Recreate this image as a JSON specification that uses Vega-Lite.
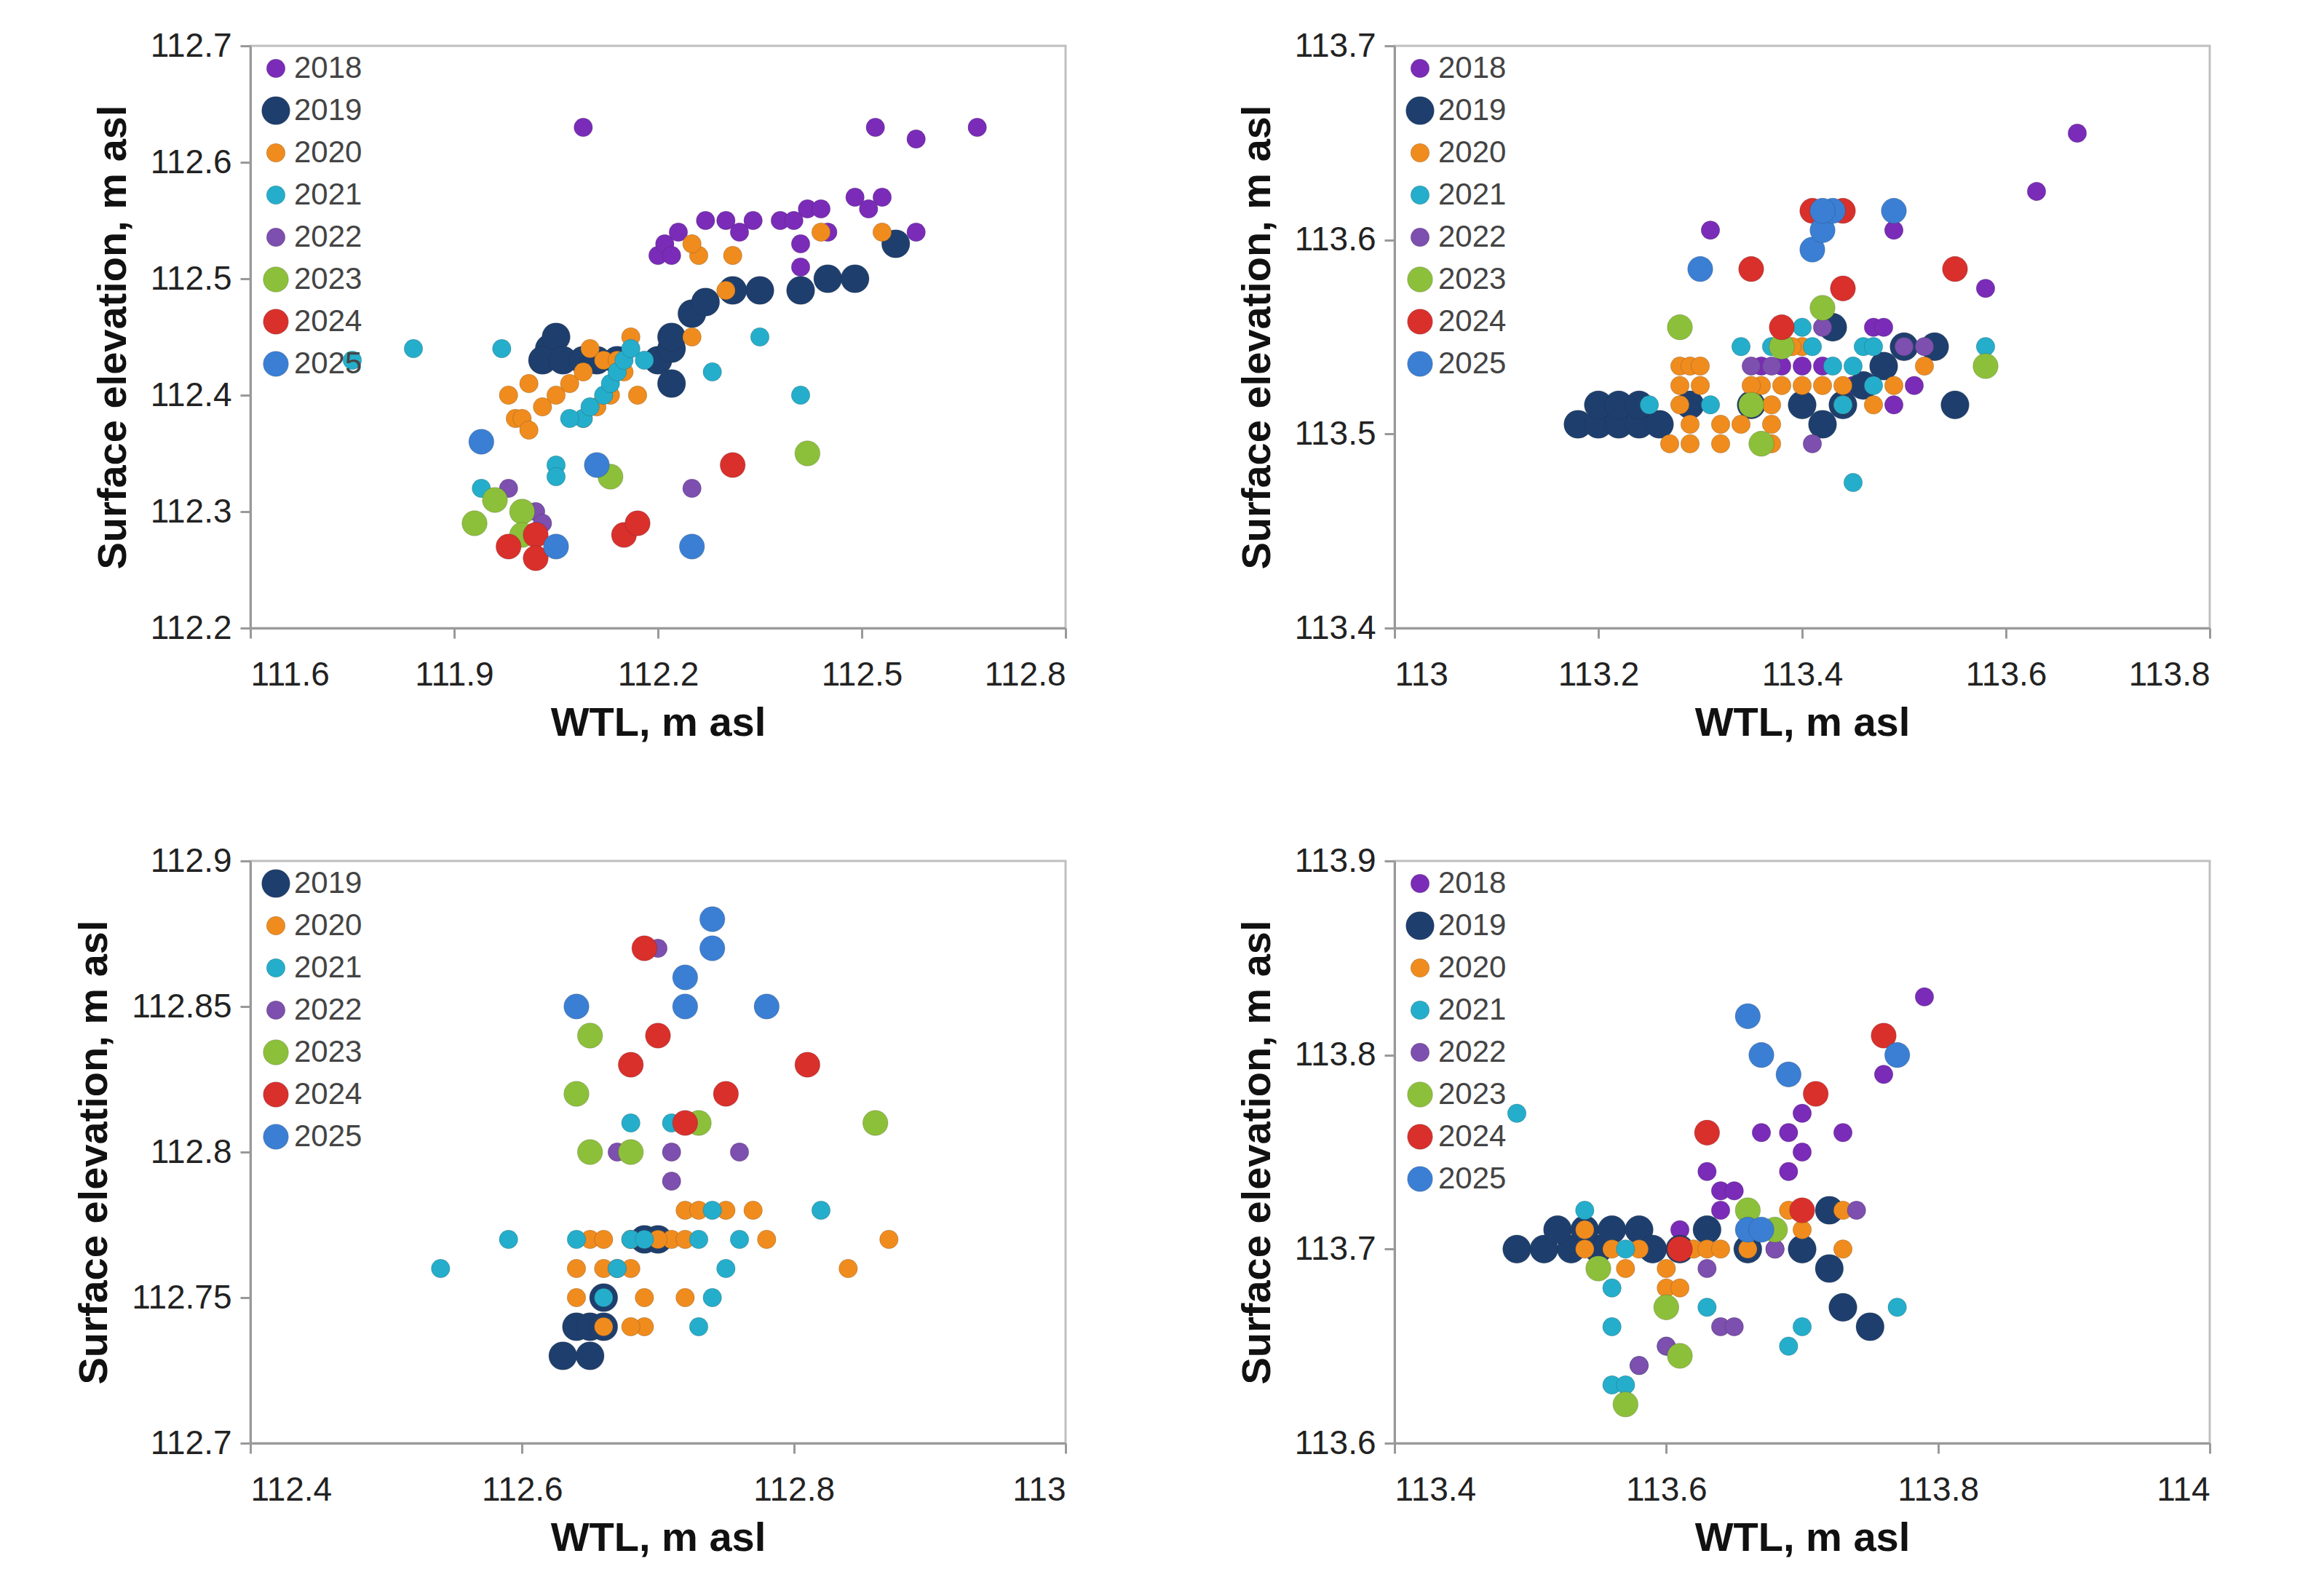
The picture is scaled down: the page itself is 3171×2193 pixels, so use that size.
{
"$schema":"https://vega.github.io/schema/vega-lite/v6.json",
"background":"white",
"padding":{"left":100,"top":38,"right":40,"bottom":20},
"columns":2,
"spacing":{"column":230,"row":135},
"datasets":{
"p2":[
{"year":"2018","wtl":112.09,"se":112.63},{"year":"2018","wtl":112.52,"se":112.63},{"year":"2018","wtl":112.58,"se":112.62},{"year":"2018","wtl":112.67,"se":112.63},{"year":"2018","wtl":112.20,"se":112.52},{"year":"2018","wtl":112.21,"se":112.53},{"year":"2018","wtl":112.22,"se":112.52},{"year":"2018","wtl":112.23,"se":112.54},{"year":"2018","wtl":112.27,"se":112.55},{"year":"2018","wtl":112.30,"se":112.55},{"year":"2018","wtl":112.32,"se":112.54},{"year":"2018","wtl":112.34,"se":112.55},{"year":"2018","wtl":112.38,"se":112.55},{"year":"2018","wtl":112.40,"se":112.55},{"year":"2018","wtl":112.42,"se":112.56},{"year":"2018","wtl":112.44,"se":112.56},{"year":"2018","wtl":112.49,"se":112.57},{"year":"2018","wtl":112.53,"se":112.57},{"year":"2018","wtl":112.51,"se":112.56},{"year":"2018","wtl":112.41,"se":112.53},{"year":"2018","wtl":112.41,"se":112.51},{"year":"2018","wtl":112.45,"se":112.54},{"year":"2018","wtl":112.58,"se":112.54},
{"year":"2019","wtl":112.04,"se":112.44},{"year":"2019","wtl":112.05,"se":112.45},{"year":"2019","wtl":112.03,"se":112.43},{"year":"2019","wtl":112.06,"se":112.43},{"year":"2019","wtl":112.09,"se":112.43},{"year":"2019","wtl":112.11,"se":112.43},{"year":"2019","wtl":112.14,"se":112.43},{"year":"2019","wtl":112.20,"se":112.43},{"year":"2019","wtl":112.22,"se":112.44},{"year":"2019","wtl":112.22,"se":112.41},{"year":"2019","wtl":112.25,"se":112.47},{"year":"2019","wtl":112.27,"se":112.48},{"year":"2019","wtl":112.31,"se":112.49},{"year":"2019","wtl":112.35,"se":112.49},{"year":"2019","wtl":112.41,"se":112.49},{"year":"2019","wtl":112.45,"se":112.50},{"year":"2019","wtl":112.49,"se":112.50},{"year":"2019","wtl":112.55,"se":112.53},{"year":"2019","wtl":112.22,"se":112.45},
{"year":"2020","wtl":111.98,"se":112.40},{"year":"2020","wtl":111.99,"se":112.38},{"year":"2020","wtl":112.01,"se":112.41},{"year":"2020","wtl":112.03,"se":112.39},{"year":"2020","wtl":112.05,"se":112.40},{"year":"2020","wtl":112.07,"se":112.41},{"year":"2020","wtl":112.09,"se":112.42},{"year":"2020","wtl":112.10,"se":112.44},{"year":"2020","wtl":112.12,"se":112.43},{"year":"2020","wtl":112.14,"se":112.43},{"year":"2020","wtl":112.15,"se":112.42},{"year":"2020","wtl":112.16,"se":112.45},{"year":"2020","wtl":112.11,"se":112.39},{"year":"2020","wtl":112.13,"se":112.40},{"year":"2020","wtl":112.09,"se":112.38},{"year":"2020","wtl":112.00,"se":112.38},{"year":"2020","wtl":112.01,"se":112.37},{"year":"2020","wtl":112.25,"se":112.45},{"year":"2020","wtl":112.26,"se":112.52},{"year":"2020","wtl":112.25,"se":112.53},{"year":"2020","wtl":112.31,"se":112.52},{"year":"2020","wtl":112.30,"se":112.49},{"year":"2020","wtl":112.44,"se":112.54},{"year":"2020","wtl":112.53,"se":112.54},{"year":"2020","wtl":112.17,"se":112.40},
{"year":"2021","wtl":111.75,"se":112.43},{"year":"2021","wtl":111.84,"se":112.44},{"year":"2021","wtl":111.97,"se":112.44},{"year":"2021","wtl":112.09,"se":112.38},{"year":"2021","wtl":112.07,"se":112.38},{"year":"2021","wtl":112.10,"se":112.39},{"year":"2021","wtl":112.12,"se":112.40},{"year":"2021","wtl":112.13,"se":112.41},{"year":"2021","wtl":112.14,"se":112.42},{"year":"2021","wtl":112.15,"se":112.43},{"year":"2021","wtl":112.16,"se":112.44},{"year":"2021","wtl":112.18,"se":112.43},{"year":"2021","wtl":112.28,"se":112.42},{"year":"2021","wtl":112.35,"se":112.45},{"year":"2021","wtl":112.41,"se":112.40},{"year":"2021","wtl":112.05,"se":112.34},{"year":"2021","wtl":112.05,"se":112.33},{"year":"2021","wtl":111.94,"se":112.32},
{"year":"2022","wtl":111.98,"se":112.32},{"year":"2022","wtl":112.02,"se":112.30},{"year":"2022","wtl":112.03,"se":112.29},{"year":"2022","wtl":112.25,"se":112.32},
{"year":"2023","wtl":111.93,"se":112.29},{"year":"2023","wtl":111.96,"se":112.31},{"year":"2023","wtl":112.00,"se":112.30},{"year":"2023","wtl":112.00,"se":112.28},{"year":"2023","wtl":112.13,"se":112.33},{"year":"2023","wtl":112.42,"se":112.35},
{"year":"2024","wtl":111.98,"se":112.27},{"year":"2024","wtl":112.02,"se":112.28},{"year":"2024","wtl":112.02,"se":112.26},{"year":"2024","wtl":112.15,"se":112.28},{"year":"2024","wtl":112.17,"se":112.29},{"year":"2024","wtl":112.31,"se":112.34},
{"year":"2025","wtl":111.94,"se":112.36},{"year":"2025","wtl":112.11,"se":112.34},{"year":"2025","wtl":112.05,"se":112.27},{"year":"2025","wtl":112.25,"se":112.27}],
"p3":[
{"year":"2018","wtl":113.67,"se":113.655},{"year":"2018","wtl":113.63,"se":113.625},{"year":"2018","wtl":113.31,"se":113.605},{"year":"2018","wtl":113.49,"se":113.605},{"year":"2018","wtl":113.58,"se":113.575},{"year":"2018","wtl":113.47,"se":113.555},{"year":"2018","wtl":113.48,"se":113.555},{"year":"2018","wtl":113.45,"se":113.525},{"year":"2018","wtl":113.51,"se":113.525},{"year":"2018","wtl":113.44,"se":113.515},{"year":"2018","wtl":113.49,"se":113.515},{"year":"2018","wtl":113.36,"se":113.535},{"year":"2018","wtl":113.38,"se":113.535},{"year":"2018","wtl":113.40,"se":113.535},{"year":"2018","wtl":113.42,"se":113.535},
{"year":"2019","wtl":113.18,"se":113.505},{"year":"2019","wtl":113.20,"se":113.505},{"year":"2019","wtl":113.22,"se":113.505},{"year":"2019","wtl":113.24,"se":113.505},{"year":"2019","wtl":113.20,"se":113.515},{"year":"2019","wtl":113.22,"se":113.515},{"year":"2019","wtl":113.24,"se":113.515},{"year":"2019","wtl":113.26,"se":113.505},{"year":"2019","wtl":113.29,"se":113.515},{"year":"2019","wtl":113.35,"se":113.515},{"year":"2019","wtl":113.40,"se":113.515},{"year":"2019","wtl":113.42,"se":113.505},{"year":"2019","wtl":113.46,"se":113.525},{"year":"2019","wtl":113.48,"se":113.535},{"year":"2019","wtl":113.53,"se":113.545},{"year":"2019","wtl":113.50,"se":113.545},{"year":"2019","wtl":113.55,"se":113.515},{"year":"2019","wtl":113.44,"se":113.515},{"year":"2019","wtl":113.43,"se":113.555},
{"year":"2020","wtl":113.28,"se":113.535},{"year":"2020","wtl":113.29,"se":113.535},{"year":"2020","wtl":113.30,"se":113.535},{"year":"2020","wtl":113.28,"se":113.525},{"year":"2020","wtl":113.30,"se":113.525},{"year":"2020","wtl":113.28,"se":113.515},{"year":"2020","wtl":113.29,"se":113.505},{"year":"2020","wtl":113.27,"se":113.495},{"year":"2020","wtl":113.29,"se":113.495},{"year":"2020","wtl":113.32,"se":113.505},{"year":"2020","wtl":113.34,"se":113.505},{"year":"2020","wtl":113.32,"se":113.495},{"year":"2020","wtl":113.37,"se":113.495},{"year":"2020","wtl":113.37,"se":113.505},{"year":"2020","wtl":113.37,"se":113.515},{"year":"2020","wtl":113.36,"se":113.525},{"year":"2020","wtl":113.38,"se":113.525},{"year":"2020","wtl":113.40,"se":113.525},{"year":"2020","wtl":113.42,"se":113.525},{"year":"2020","wtl":113.44,"se":113.525},{"year":"2020","wtl":113.44,"se":113.515},{"year":"2020","wtl":113.47,"se":113.515},{"year":"2020","wtl":113.49,"se":113.525},{"year":"2020","wtl":113.52,"se":113.535},{"year":"2020","wtl":113.40,"se":113.545},{"year":"2020","wtl":113.35,"se":113.525},{"year":"2020","wtl":113.39,"se":113.545},
{"year":"2021","wtl":113.25,"se":113.515},{"year":"2021","wtl":113.34,"se":113.545},{"year":"2021","wtl":113.38,"se":113.555},{"year":"2021","wtl":113.40,"se":113.555},{"year":"2021","wtl":113.41,"se":113.545},{"year":"2021","wtl":113.43,"se":113.535},{"year":"2021","wtl":113.45,"se":113.535},{"year":"2021","wtl":113.46,"se":113.545},{"year":"2021","wtl":113.47,"se":113.545},{"year":"2021","wtl":113.47,"se":113.525},{"year":"2021","wtl":113.44,"se":113.515},{"year":"2021","wtl":113.58,"se":113.545},{"year":"2021","wtl":113.31,"se":113.515},{"year":"2021","wtl":113.45,"se":113.475},{"year":"2021","wtl":113.37,"se":113.545},
{"year":"2022","wtl":113.35,"se":113.535},{"year":"2022","wtl":113.42,"se":113.555},{"year":"2022","wtl":113.41,"se":113.495},{"year":"2022","wtl":113.50,"se":113.545},{"year":"2022","wtl":113.52,"se":113.545},{"year":"2022","wtl":113.37,"se":113.535},
{"year":"2023","wtl":113.28,"se":113.555},{"year":"2023","wtl":113.42,"se":113.565},{"year":"2023","wtl":113.38,"se":113.545},{"year":"2023","wtl":113.36,"se":113.495},{"year":"2023","wtl":113.35,"se":113.515},{"year":"2023","wtl":113.58,"se":113.535},
{"year":"2024","wtl":113.35,"se":113.585},{"year":"2024","wtl":113.44,"se":113.575},{"year":"2024","wtl":113.55,"se":113.585},{"year":"2024","wtl":113.38,"se":113.555},{"year":"2024","wtl":113.41,"se":113.615},{"year":"2024","wtl":113.44,"se":113.615},
{"year":"2025","wtl":113.30,"se":113.585},{"year":"2025","wtl":113.41,"se":113.595},{"year":"2025","wtl":113.42,"se":113.605},{"year":"2025","wtl":113.43,"se":113.615},{"year":"2025","wtl":113.49,"se":113.615},{"year":"2025","wtl":113.42,"se":113.615}],
"p4":[
{"year":"2019","wtl":112.63,"se":112.73},{"year":"2019","wtl":112.65,"se":112.73},{"year":"2019","wtl":112.64,"se":112.74},{"year":"2019","wtl":112.65,"se":112.74},{"year":"2019","wtl":112.66,"se":112.74},{"year":"2019","wtl":112.66,"se":112.75},{"year":"2019","wtl":112.69,"se":112.77},{"year":"2019","wtl":112.70,"se":112.77},
{"year":"2020","wtl":112.64,"se":112.75},{"year":"2020","wtl":112.64,"se":112.76},{"year":"2020","wtl":112.66,"se":112.76},{"year":"2020","wtl":112.67,"se":112.76},{"year":"2020","wtl":112.68,"se":112.76},{"year":"2020","wtl":112.65,"se":112.77},{"year":"2020","wtl":112.66,"se":112.77},{"year":"2020","wtl":112.68,"se":112.77},{"year":"2020","wtl":112.71,"se":112.77},{"year":"2020","wtl":112.72,"se":112.77},{"year":"2020","wtl":112.72,"se":112.78},{"year":"2020","wtl":112.75,"se":112.78},{"year":"2020","wtl":112.77,"se":112.78},{"year":"2020","wtl":112.78,"se":112.77},{"year":"2020","wtl":112.84,"se":112.76},{"year":"2020","wtl":112.87,"se":112.77},{"year":"2020","wtl":112.66,"se":112.74},{"year":"2020","wtl":112.69,"se":112.74},{"year":"2020","wtl":112.68,"se":112.74},{"year":"2020","wtl":112.69,"se":112.75},{"year":"2020","wtl":112.72,"se":112.75},{"year":"2020","wtl":112.70,"se":112.77},{"year":"2020","wtl":112.73,"se":112.78},
{"year":"2021","wtl":112.54,"se":112.76},{"year":"2021","wtl":112.59,"se":112.77},{"year":"2021","wtl":112.64,"se":112.77},{"year":"2021","wtl":112.67,"se":112.76},{"year":"2021","wtl":112.68,"se":112.77},{"year":"2021","wtl":112.66,"se":112.75},{"year":"2021","wtl":112.69,"se":112.77},{"year":"2021","wtl":112.73,"se":112.77},{"year":"2021","wtl":112.75,"se":112.76},{"year":"2021","wtl":112.74,"se":112.75},{"year":"2021","wtl":112.73,"se":112.74},{"year":"2021","wtl":112.76,"se":112.77},{"year":"2021","wtl":112.82,"se":112.78},{"year":"2021","wtl":112.74,"se":112.78},{"year":"2021","wtl":112.68,"se":112.81},{"year":"2021","wtl":112.71,"se":112.81},
{"year":"2022","wtl":112.70,"se":112.87},{"year":"2022","wtl":112.67,"se":112.80},{"year":"2022","wtl":112.71,"se":112.80},{"year":"2022","wtl":112.76,"se":112.80},{"year":"2022","wtl":112.71,"se":112.79},
{"year":"2023","wtl":112.65,"se":112.84},{"year":"2023","wtl":112.64,"se":112.82},{"year":"2023","wtl":112.65,"se":112.80},{"year":"2023","wtl":112.68,"se":112.80},{"year":"2023","wtl":112.73,"se":112.81},{"year":"2023","wtl":112.86,"se":112.81},
{"year":"2024","wtl":112.69,"se":112.87},{"year":"2024","wtl":112.70,"se":112.84},{"year":"2024","wtl":112.68,"se":112.83},{"year":"2024","wtl":112.75,"se":112.82},{"year":"2024","wtl":112.81,"se":112.83},{"year":"2024","wtl":112.72,"se":112.81},
{"year":"2025","wtl":112.74,"se":112.88},{"year":"2025","wtl":112.74,"se":112.87},{"year":"2025","wtl":112.72,"se":112.86},{"year":"2025","wtl":112.64,"se":112.85},{"year":"2025","wtl":112.72,"se":112.85},{"year":"2025","wtl":112.78,"se":112.85}],
"p5":[
{"year":"2018","wtl":113.79,"se":113.83},{"year":"2018","wtl":113.76,"se":113.79},{"year":"2018","wtl":113.71,"se":113.78},{"year":"2018","wtl":113.67,"se":113.76},{"year":"2018","wtl":113.70,"se":113.77},{"year":"2018","wtl":113.69,"se":113.76},{"year":"2018","wtl":113.73,"se":113.76},{"year":"2018","wtl":113.70,"se":113.75},{"year":"2018","wtl":113.63,"se":113.74},{"year":"2018","wtl":113.69,"se":113.74},{"year":"2018","wtl":113.64,"se":113.73},{"year":"2018","wtl":113.65,"se":113.73},{"year":"2018","wtl":113.64,"se":113.72},{"year":"2018","wtl":113.61,"se":113.71},{"year":"2018","wtl":113.68,"se":113.70},
{"year":"2019","wtl":113.49,"se":113.70},{"year":"2019","wtl":113.51,"se":113.70},{"year":"2019","wtl":113.53,"se":113.70},{"year":"2019","wtl":113.55,"se":113.70},{"year":"2019","wtl":113.52,"se":113.71},{"year":"2019","wtl":113.54,"se":113.71},{"year":"2019","wtl":113.56,"se":113.71},{"year":"2019","wtl":113.58,"se":113.71},{"year":"2019","wtl":113.59,"se":113.70},{"year":"2019","wtl":113.63,"se":113.71},{"year":"2019","wtl":113.66,"se":113.70},{"year":"2019","wtl":113.70,"se":113.70},{"year":"2019","wtl":113.72,"se":113.72},{"year":"2019","wtl":113.72,"se":113.69},{"year":"2019","wtl":113.73,"se":113.67},{"year":"2019","wtl":113.75,"se":113.66},{"year":"2019","wtl":113.61,"se":113.70},
{"year":"2020","wtl":113.54,"se":113.71},{"year":"2020","wtl":113.54,"se":113.70},{"year":"2020","wtl":113.56,"se":113.70},{"year":"2020","wtl":113.58,"se":113.70},{"year":"2020","wtl":113.55,"se":113.69},{"year":"2020","wtl":113.57,"se":113.69},{"year":"2020","wtl":113.60,"se":113.69},{"year":"2020","wtl":113.60,"se":113.68},{"year":"2020","wtl":113.61,"se":113.68},{"year":"2020","wtl":113.62,"se":113.70},{"year":"2020","wtl":113.63,"se":113.70},{"year":"2020","wtl":113.64,"se":113.70},{"year":"2020","wtl":113.66,"se":113.70},{"year":"2020","wtl":113.69,"se":113.72},{"year":"2020","wtl":113.73,"se":113.72},{"year":"2020","wtl":113.73,"se":113.70},{"year":"2020","wtl":113.70,"se":113.71},
{"year":"2021","wtl":113.49,"se":113.77},{"year":"2021","wtl":113.54,"se":113.72},{"year":"2021","wtl":113.56,"se":113.68},{"year":"2021","wtl":113.56,"se":113.66},{"year":"2021","wtl":113.56,"se":113.63},{"year":"2021","wtl":113.57,"se":113.63},{"year":"2021","wtl":113.58,"se":113.64},{"year":"2021","wtl":113.60,"se":113.65},{"year":"2021","wtl":113.63,"se":113.67},{"year":"2021","wtl":113.69,"se":113.65},{"year":"2021","wtl":113.70,"se":113.66},{"year":"2021","wtl":113.77,"se":113.67},{"year":"2021","wtl":113.57,"se":113.70},
{"year":"2022","wtl":113.58,"se":113.64},{"year":"2022","wtl":113.60,"se":113.65},{"year":"2022","wtl":113.63,"se":113.69},{"year":"2022","wtl":113.64,"se":113.66},{"year":"2022","wtl":113.65,"se":113.66},{"year":"2022","wtl":113.74,"se":113.72},{"year":"2022","wtl":113.68,"se":113.70},
{"year":"2023","wtl":113.55,"se":113.69},{"year":"2023","wtl":113.60,"se":113.67},{"year":"2023","wtl":113.57,"se":113.62},{"year":"2023","wtl":113.61,"se":113.645},{"year":"2023","wtl":113.66,"se":113.72},{"year":"2023","wtl":113.68,"se":113.71},
{"year":"2024","wtl":113.61,"se":113.70},{"year":"2024","wtl":113.63,"se":113.76},{"year":"2024","wtl":113.71,"se":113.78},{"year":"2024","wtl":113.76,"se":113.81},{"year":"2024","wtl":113.70,"se":113.72},
{"year":"2025","wtl":113.66,"se":113.82},{"year":"2025","wtl":113.67,"se":113.80},{"year":"2025","wtl":113.69,"se":113.79},{"year":"2025","wtl":113.77,"se":113.80},{"year":"2025","wtl":113.66,"se":113.71},{"year":"2025","wtl":113.67,"se":113.71}]
},
"config":{
"view":{"stroke":"#bfbfbf","strokeWidth":3},
"axis":{"grid":false,"labelFontSize":46,"labelColor":"#222222","titleFontSize":56,"titleFontWeight":"bold","titleColor":"#111111","domainColor":"#999999","domainWidth":3,"tickColor":"#999999","tickWidth":3,"tickSize":14,"labelPadding":12,"labelFont":"Liberation Sans","titleFont":"Liberation Sans","format":"~g"},
"axisX":{"titlePadding":16,"labelPadding":28},
"axisY":{"titlePadding":22},
"legend":{"orient":"none","legendX":14,"legendY":10,"title":null,"labelFontSize":42,"labelColor":"#444444","labelFont":"Liberation Sans","rowPadding":16,"symbolStrokeWidth":0},
"point":{"filled":true,"opacity":1,"stroke":"#222222","strokeWidth":0.6,"strokeOpacity":0.35}
},
"resolve":{"scale":{"color":"independent","size":"independent","x":"independent","y":"independent"},"legend":{"color":"independent","size":"independent"}},
"concat":[
{"width":1120,"height":800,"layer":[
{"data":{"name":"p2"},"mark":{"type":"point","shape":"circle"},"encoding":{
"x":{"field":"wtl","type":"quantitative","title":"WTL, m asl","scale":{"domain":[111.6,112.8],"nice":false,"zero":false},"axis":{"values":[111.6,111.9,112.2,112.5,112.8]}},
"y":{"field":"se","type":"quantitative","title":"Surface elevation, m asl","scale":{"domain":[112.2,112.7],"nice":false,"zero":false},"axis":{"values":[112.2,112.3,112.4,112.5,112.6,112.7]}},
"color":{"field":"year","type":"nominal","scale":{"domain":["2018","2019","2020","2021","2022","2023","2024","2025"],"range":["#7a2cb8","#1e3f6e","#f08c1e","#25aecb","#7d4fae","#8dc03a","#d9302c","#3b7fd4"]}},
"size":{"field":"year","type":"nominal","scale":{"type":"ordinal","domain":["2018","2019","2020","2021","2022","2023","2024","2025"],"range":[650,1500,650,650,650,1200,1200,1200]}}}},
{"mark":{"type":"text","fontSize":62,"fontWeight":"bold","color":"#666666","align":"right","font":"Liberation Sans"},"encoding":{"x":{"datum":112.77},"y":{"datum":112.22},"text":{"value":"P2"}}}]},
{"width":1120,"height":800,"layer":[
{"data":{"name":"p3"},"mark":{"type":"point","shape":"circle"},"encoding":{
"x":{"field":"wtl","type":"quantitative","title":"WTL, m asl","scale":{"domain":[113,113.8],"nice":false,"zero":false},"axis":{"values":[113,113.2,113.4,113.6,113.8]}},
"y":{"field":"se","type":"quantitative","title":"Surface elevation, m asl","scale":{"domain":[113.4,113.7],"nice":false,"zero":false},"axis":{"values":[113.4,113.5,113.6,113.7]}},
"color":{"field":"year","type":"nominal","scale":{"domain":["2018","2019","2020","2021","2022","2023","2024","2025"],"range":["#7a2cb8","#1e3f6e","#f08c1e","#25aecb","#7d4fae","#8dc03a","#d9302c","#3b7fd4"]}},
"size":{"field":"year","type":"nominal","scale":{"type":"ordinal","domain":["2018","2019","2020","2021","2022","2023","2024","2025"],"range":[650,1500,650,650,650,1200,1200,1200]}}}},
{"mark":{"type":"text","fontSize":62,"fontWeight":"bold","color":"#666666","align":"right","font":"Liberation Sans"},"encoding":{"x":{"datum":113.78},"y":{"datum":113.415},"text":{"value":"P3"}}}]},
{"width":1120,"height":800,"layer":[
{"data":{"name":"p4"},"mark":{"type":"point","shape":"circle"},"encoding":{
"x":{"field":"wtl","type":"quantitative","title":"WTL, m asl","scale":{"domain":[112.4,113],"nice":false,"zero":false},"axis":{"values":[112.4,112.6,112.8,113]}},
"y":{"field":"se","type":"quantitative","title":"Surface elevation, m asl","scale":{"domain":[112.7,112.9],"nice":false,"zero":false},"axis":{"values":[112.7,112.75,112.8,112.85,112.9]}},
"color":{"field":"year","type":"nominal","scale":{"domain":["2019","2020","2021","2022","2023","2024","2025"],"range":["#1e3f6e","#f08c1e","#25aecb","#7d4fae","#8dc03a","#d9302c","#3b7fd4"]}},
"size":{"field":"year","type":"nominal","scale":{"type":"ordinal","domain":["2019","2020","2021","2022","2023","2024","2025"],"range":[1500,650,650,650,1200,1200,1200]}}}},
{"mark":{"type":"text","fontSize":62,"fontWeight":"bold","color":"#666666","align":"right","font":"Liberation Sans"},"encoding":{"x":{"datum":112.985},"y":{"datum":112.71},"text":{"value":"P4"}}}]},
{"width":1120,"height":800,"layer":[
{"data":{"name":"p5"},"mark":{"type":"point","shape":"circle"},"encoding":{
"x":{"field":"wtl","type":"quantitative","title":"WTL, m asl","scale":{"domain":[113.4,114],"nice":false,"zero":false},"axis":{"values":[113.4,113.6,113.8,114]}},
"y":{"field":"se","type":"quantitative","title":"Surface elevation, m asl","scale":{"domain":[113.6,113.9],"nice":false,"zero":false},"axis":{"values":[113.6,113.7,113.8,113.9]}},
"color":{"field":"year","type":"nominal","scale":{"domain":["2018","2019","2020","2021","2022","2023","2024","2025"],"range":["#7a2cb8","#1e3f6e","#f08c1e","#25aecb","#7d4fae","#8dc03a","#d9302c","#3b7fd4"]}},
"size":{"field":"year","type":"nominal","scale":{"type":"ordinal","domain":["2018","2019","2020","2021","2022","2023","2024","2025"],"range":[650,1500,650,650,650,1200,1200,1200]}}}},
{"mark":{"type":"text","fontSize":62,"fontWeight":"bold","color":"#666666","align":"right","font":"Liberation Sans"},"encoding":{"x":{"datum":113.985},"y":{"datum":113.615},"text":{"value":"P5"}}}]}
]}
